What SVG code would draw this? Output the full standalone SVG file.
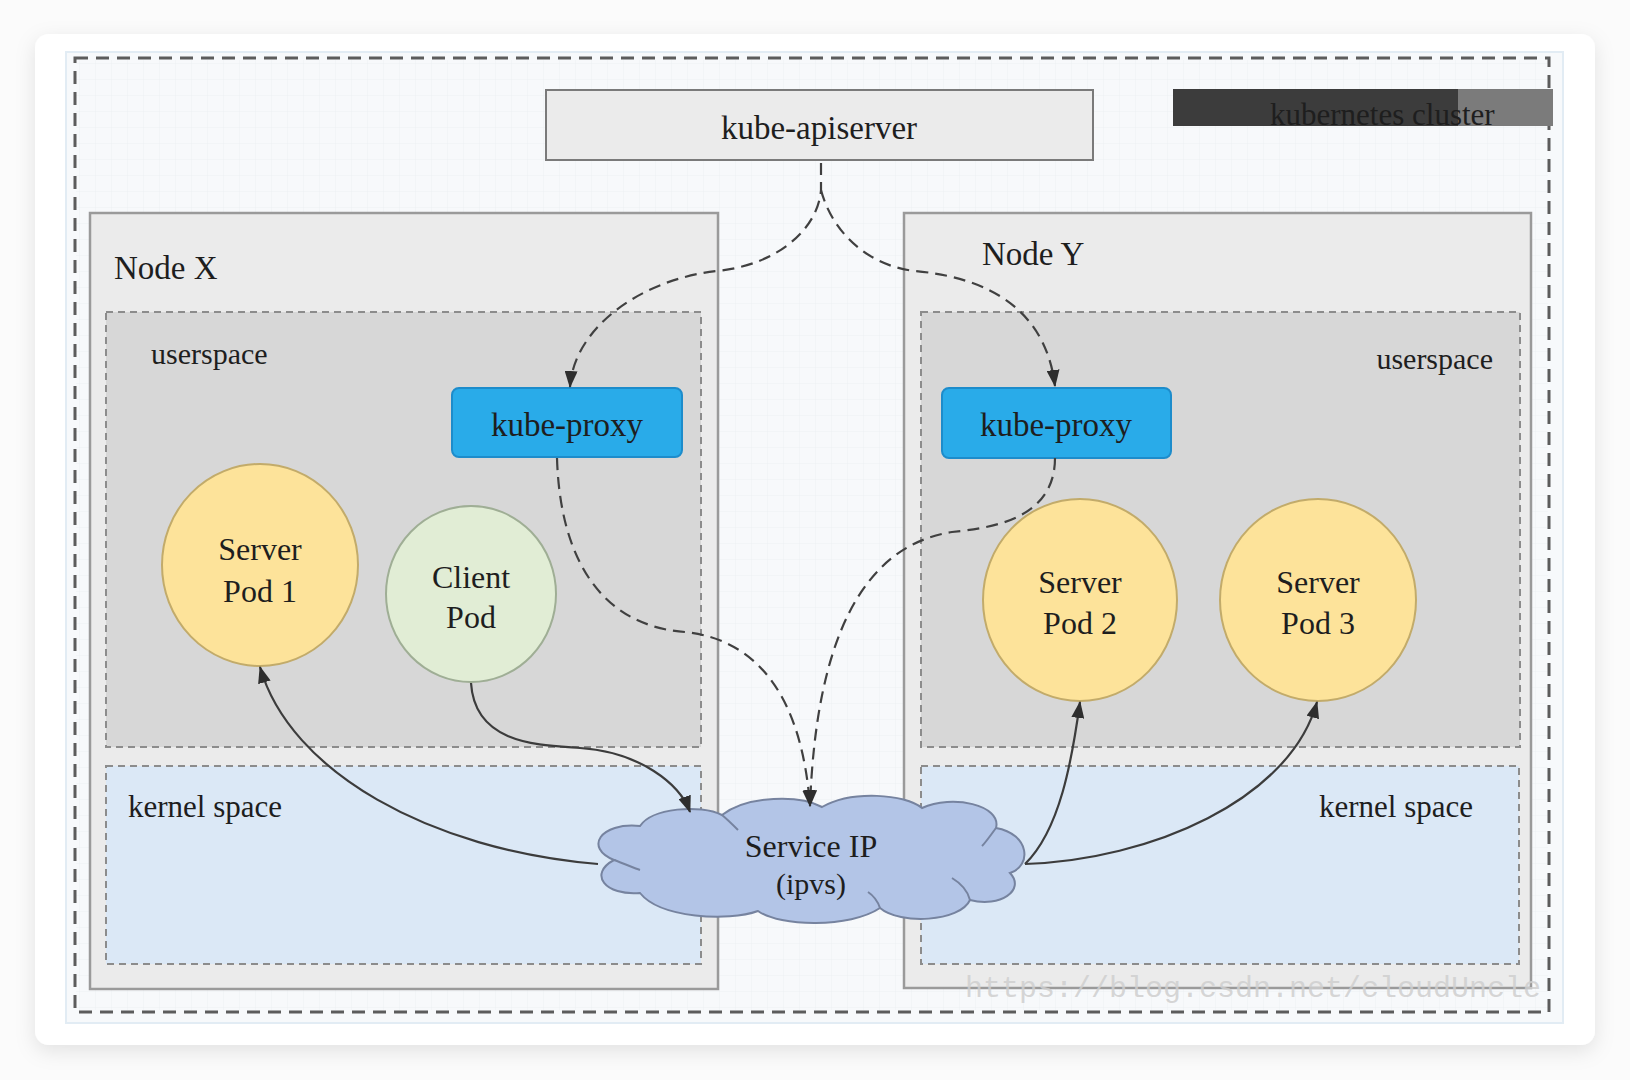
<svg xmlns="http://www.w3.org/2000/svg" width="1630" height="1080" viewBox="0 0 1630 1080">
<defs>
<style>
.t{font-family:"Liberation Serif","Times New Roman",serif;fill:#1e1e1e}
.node{fill:#ebebeb;stroke:#9a9a9a;stroke-width:2.5}
.us{fill:#d7d7d7;stroke:#8c8c8c;stroke-width:2;stroke-dasharray:7 5}
.ks{fill:#dbe8f6;stroke:#8c8c8c;stroke-width:2;stroke-dasharray:7 5}
.proxy{fill:#29abe9;stroke:#1d8ccb;stroke-width:2}
.spod{fill:#fde39a;stroke:#c2ab6a;stroke-width:2}
.cpod{fill:#e1edd5;stroke:#9fae95;stroke-width:2}
.dash{fill:none;stroke:#404040;stroke-width:2.2;stroke-dasharray:12 7}
.solid{fill:none;stroke:#3c3c3c;stroke-width:2.2}
</style>
<filter id="shadow" x="-5%" y="-5%" width="110%" height="115%">
<feDropShadow dx="0" dy="6" stdDeviation="10" flood-color="#000" flood-opacity="0.10"/>
</filter>
<marker id="arrow" viewBox="0 0 17 13" refX="16" refY="6.5" markerWidth="17" markerHeight="13" orient="auto" markerUnits="userSpaceOnUse">
<path d="M0,0 L17,6.5 L0,13 Z" fill="#2e2e2e"/>
</marker>
<pattern id="grid" width="16" height="16" patternUnits="userSpaceOnUse">
<path d="M16 0 V16 M0 16 H16" stroke="#edf0f3" stroke-width="1" fill="none"/>
</pattern>
</defs>

<rect x="0" y="0" width="1630" height="1080" fill="#fbfbfb"/>
<rect x="35" y="34" width="1560" height="1011" rx="14" fill="#ffffff" filter="url(#shadow)"/>
<rect x="66" y="52" width="1497" height="971" fill="#f7f9fb" stroke="#e2ecf4" stroke-width="2"/>
<rect x="76" y="60" width="1472" height="950" fill="url(#grid)"/>
<rect id="cluster-border" x="75" y="58" width="1474" height="954" fill="none" stroke="#5c5c5c" stroke-width="3" stroke-dasharray="13 8"/>

<g id="cluster-label">
<rect x="1173" y="89" width="285" height="37" fill="#3c3c3c"/>
<rect x="1458" y="89" width="95" height="37" fill="#7b7b7b"/>
<text class="t" x="1270" y="125" font-size="31" fill="#0a0a0a">kubernetes cluster</text>
</g>

<g id="kube-apiserver">
<rect x="546" y="90" width="547" height="70" fill="#ebebeb" stroke="#7a7a7a" stroke-width="2"/>
<text class="t" x="819" y="139" font-size="33" text-anchor="middle">kube-apiserver</text>
</g>

<g id="node-x">
<rect class="node" x="90" y="213" width="628" height="776"/>
<text class="t" x="114" y="279" font-size="33">Node X</text>
</g>
<g id="node-y">
<rect class="node" x="904" y="213" width="627" height="775"/>
<text class="t" x="982" y="265" font-size="33">Node Y</text>
</g>

<g id="userspace-x">
<rect class="us" x="106" y="312" width="595" height="435"/>
<text class="t" x="151" y="364" font-size="30">userspace</text>
</g>
<g id="userspace-y">
<rect class="us" x="921" y="312" width="599" height="435"/>
<text class="t" x="1493" y="369" font-size="30" text-anchor="end">userspace</text>
</g>

<g id="kernel-x">
<rect class="ks" x="106" y="766" width="595" height="198"/>
<text class="t" x="128" y="817" font-size="31">kernel space</text>
</g>
<g id="kernel-y">
<rect class="ks" x="921" y="766" width="598" height="198"/>
<text class="t" x="1473" y="817" font-size="31" text-anchor="end">kernel space</text>
</g>

<g id="kube-proxy-x">
<rect class="proxy" x="452" y="388" width="230" height="69" rx="7"/>
<text class="t" x="567" y="436" font-size="33" text-anchor="middle" fill="#0d1a24">kube-proxy</text>
</g>
<g id="kube-proxy-y">
<rect class="proxy" x="942" y="388" width="229" height="70" rx="7"/>
<text class="t" x="1056" y="436" font-size="33" text-anchor="middle" fill="#0d1a24">kube-proxy</text>
</g>

<g id="server-pod-1">
<ellipse class="spod" cx="260" cy="565" rx="98" ry="101"/>
<text class="t" x="260" y="560" font-size="32" text-anchor="middle">Server</text>
<text class="t" x="260" y="602" font-size="32" text-anchor="middle">Pod 1</text>
</g>
<g id="client-pod">
<ellipse class="cpod" cx="471" cy="594" rx="85" ry="88"/>
<text class="t" x="471" y="588" font-size="32" text-anchor="middle">Client</text>
<text class="t" x="471" y="628" font-size="32" text-anchor="middle">Pod</text>
</g>
<g id="server-pod-2">
<ellipse class="spod" cx="1080" cy="600" rx="97" ry="101"/>
<text class="t" x="1080" y="593" font-size="32" text-anchor="middle">Server</text>
<text class="t" x="1080" y="634" font-size="32" text-anchor="middle">Pod 2</text>
</g>
<g id="server-pod-3">
<ellipse class="spod" cx="1318" cy="600" rx="98" ry="101"/>
<text class="t" x="1318" y="593" font-size="32" text-anchor="middle">Server</text>
<text class="t" x="1318" y="634" font-size="32" text-anchor="middle">Pod 3</text>
</g>

<g id="service-ip">
<path d="M640,893 C605,896 588,874 614,860 C584,848 600,822 640,826 C652,808 700,804 722,815 C748,795 800,795 822,807 C852,790 905,794 922,808 C952,794 1002,805 996,828 C1030,834 1032,866 1010,873 C1026,890 1000,908 970,900 C960,922 900,925 880,908 C850,928 780,927 758,911 C728,922 660,918 640,893 Z" fill="#b3c5e7" stroke="#76839f" stroke-width="2"/>
<path d="M614,860 C625,864 634,868 640,870" fill="none" stroke="#76839f" stroke-width="2"/>
<path d="M722,815 C728,820 734,826 738,830" fill="none" stroke="#76839f" stroke-width="2"/>
<path d="M996,828 C990,836 986,842 982,846" fill="none" stroke="#76839f" stroke-width="2"/>
<path d="M970,900 C968,892 962,884 952,878" fill="none" stroke="#76839f" stroke-width="2"/>
<path d="M880,908 C878,902 874,896 868,892" fill="none" stroke="#76839f" stroke-width="2"/>
<text class="t" x="811" y="857" font-size="32" text-anchor="middle">Service IP</text>
<text class="t" x="811" y="894" font-size="30" text-anchor="middle">(ipvs)</text>
</g>

<g id="connectors">
<path class="dash" d="M821,163 L821,190 C818,230 775,266 716,271 C640,280 574,328 570,387" marker-end="url(#arrow)"/>
<path class="dash" d="M821,190 C832,232 868,266 915,271 C992,278 1046,312 1055,386" marker-end="url(#arrow)"/>
<path class="dash" d="M557,458 C560,560 602,626 685,632 C760,640 802,700 810,806" marker-end="url(#arrow)"/>
<path class="dash" d="M1055,458 C1055,520 990,528 952,532 C862,546 816,640 810,806" marker-end="url(#arrow)"/>
<path class="solid" d="M471,683 C475,745 540,745 580,748 C640,752 680,784 690,812" marker-end="url(#arrow)"/>
<path class="solid" d="M598,864 C430,850 290,772 260,667" marker-end="url(#arrow)"/>
<path class="solid" d="M1025,864 C1060,830 1072,760 1080,702" marker-end="url(#arrow)"/>
<path class="solid" d="M1025,864 C1150,860 1290,800 1317,702" marker-end="url(#arrow)"/>
</g>

<text x="965" y="997" font-family="Liberation Mono, monospace" font-size="30" fill="#cfcfcf" fill-opacity="0.85">https://blog.csdn.net/cloudUncle</text>
</svg>
